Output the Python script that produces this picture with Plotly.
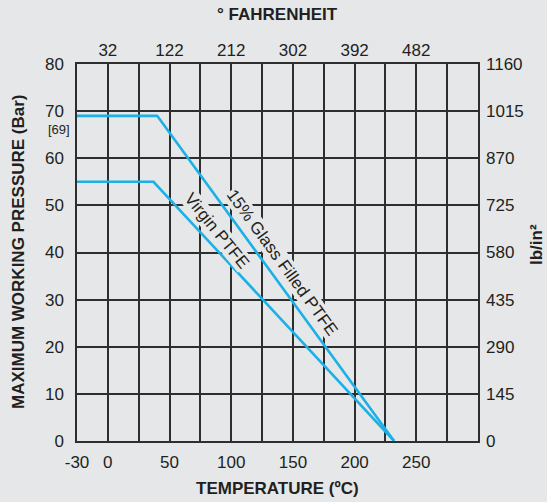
import plotly.graph_objects as go

# Data (temperature in °C, pressure in bar)
glass_temp = [-25, 40, 232]
glass_press = [69, 69, 0]
virgin_temp = [-25, 37, 232]
virgin_press = [55, 55, 0]

x_tickvals = [-25, 0, 50, 100, 150, 200, 250]
x_ticktext = ["-30", "0", "50", "100", "150", "200", "250"]
f_tickvals = [0, 50, 100, 150, 200, 250]
f_ticktext = ["32", "122", "212", "302", "392", "482"]
grid_x = [-25, 0, 25, 50, 75, 100, 125, 150, 175, 200, 225, 250, 275, 300]
psi_ticks = [0, 145, 290, 435, 580, 725, 870, 1015, 1160]

BG = "#e6e7e8"
BLUE = "#1bb1e7"
GRID = "#2e2e2e"
TXT = "#231f20"
FONT = "Liberation Sans, Arial, sans-serif"

fig = go.Figure()
fig.add_trace(go.Scatter(x=glass_temp, y=glass_press, mode="lines",
                         line=dict(color=BLUE, width=2.6), showlegend=False,
                         hoverinfo="skip"))
fig.add_trace(go.Scatter(x=virgin_temp, y=virgin_press, mode="lines",
                         line=dict(color=BLUE, width=2.6), showlegend=False,
                         hoverinfo="skip"))
# invisible trace to carry the secondary axes
fig.add_trace(go.Scatter(x=[0], y=[0], xaxis="x2", yaxis="y2", mode="markers",
                         marker=dict(opacity=0), showlegend=False, hoverinfo="skip"))

fig.update_layout(
    width=547, height=502,
    margin=dict(l=77, r=69, t=64, b=61),
    paper_bgcolor=BG, plot_bgcolor=BG,
    font=dict(family=FONT, size=17, color=TXT),
    xaxis=dict(range=[-25, 300], tickmode="array", tickvals=x_tickvals,
               ticktext=x_ticktext, showgrid=False, zeroline=False,
               showline=True, linecolor=GRID, linewidth=1.5, mirror=True,
               ticks="", ticklabelstandoff=5,
               minor=dict(tickmode="array", tickvals=grid_x, showgrid=True,
                          gridcolor=GRID, gridwidth=1.5, ticks="")),
    xaxis2=dict(range=[-25, 300], overlaying="x", side="top", tickmode="array",
                tickvals=f_tickvals, ticktext=f_ticktext, showgrid=False,
                zeroline=False, ticks="", ticklabelstandoff=4),
    yaxis=dict(range=[0, 80], dtick=10, showgrid=True, gridcolor=GRID,
               gridwidth=1.5, zeroline=False, showline=True, linecolor=GRID,
               linewidth=1.5, mirror=True, ticks="", ticklabelstandoff=8),
    yaxis2=dict(range=[0, 1160], tickmode="array", tickvals=psi_ticks,
                overlaying="y", side="right", showgrid=False, zeroline=False,
                ticks="", ticklabelstandoff=7),
)

anns = [
    dict(text="<b>° FAHRENHEIT</b>", x=277, y=502 - 15, size=17, angle=0),
    dict(text="<b>TEMPERATURE (ºC)</b>", x=277, y=502 - 488, size=17, angle=0),
    dict(text="<b>MAXIMUM WORKING PRESSURE (Bar)</b>", x=18, y=502 - 252, size=17, angle=-90),
    dict(text="<b>lb/in²</b>", x=536, y=502 - 245, size=17, angle=-90),
    dict(text="[69]", x=59, y=502 - 129, size=13, angle=0),
]
pw, ph = 547 - 77 - 69, 502 - 64 - 61
for a in anns:
    fig.add_annotation(text=a["text"], x=(a["x"] - 77) / pw, y=(a["y"] - 61) / ph,
                       xref="paper", yref="paper", showarrow=False,
                       textangle=a["angle"],
                       font=dict(size=a["size"], color=TXT, family=FONT),
                       xanchor="center", yanchor="middle")

fig.add_annotation(text="15% Glass Filled PTFE", x=141, y=37.8, xref="x", yref="y",
                   showarrow=False, textangle=54, bgcolor=BG, borderpad=0,
                   font=dict(size=17, color=TXT, family=FONT))
fig.add_annotation(text="Virgin PTFE", x=88, y=44.6, xref="x", yref="y",
                   showarrow=False, textangle=51, bgcolor=BG, borderpad=0,
                   font=dict(size=17, color=TXT, family=FONT))

fig.write_html("out.html", config={"displayModeBar": False},
               post_script="document.body.style.margin='0px';document.body.style.background='%s';" % BG)
